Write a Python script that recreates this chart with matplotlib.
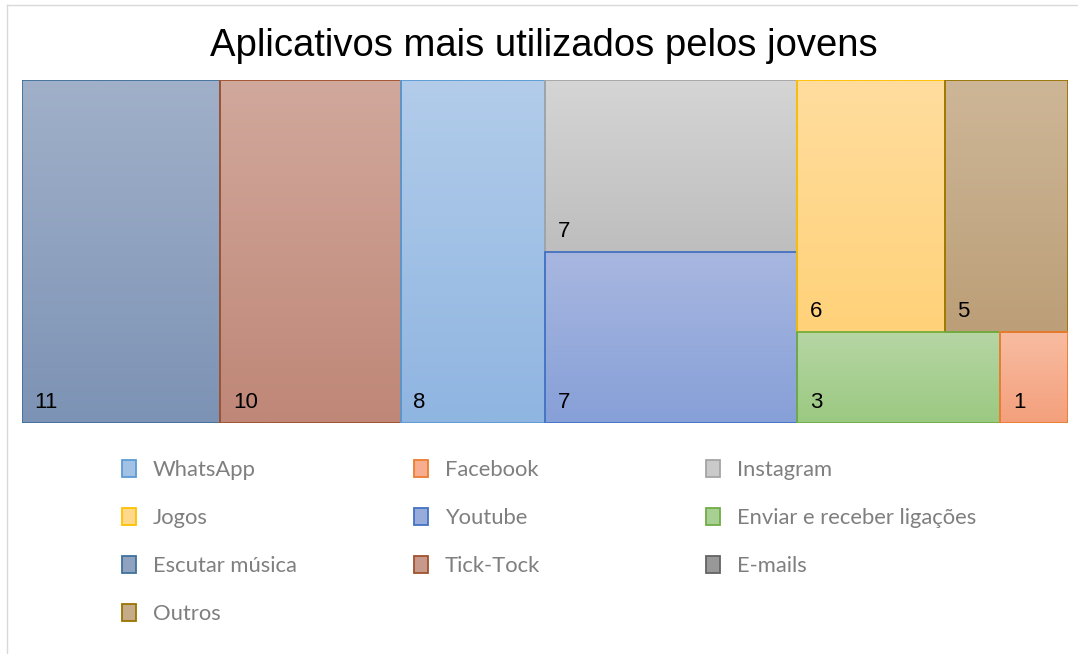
import numpy as np
import matplotlib
matplotlib.use("Agg")
import matplotlib.pyplot as plt
from matplotlib.patches import Rectangle
from matplotlib.colors import to_rgb
from matplotlib import font_manager

# data, in legend order
apps = ["WhatsApp", "Facebook", "Instagram", "Jogos", "Youtube",
        "Enviar e receber ligações", "Escutar música", "Tick-Tock", "E-mails", "Outros"]
counts = [8, 1, 7, 6, 7, 3, 11, 10, 0, 5]

# (top colour, bottom colour, border colour)
colors = {
    "WhatsApp": ("#B2CCEA", "#8FB5E1", "#5B9BD5"),
    "Facebook": ("#F8BCA2", "#F4A07C", "#ED7D31"),
    "Instagram": ("#D5D5D5", "#BEBEBE", "#A5A5A5"),
    "Jogos": ("#FFDD9E", "#FFD279", "#FFC000"),
    "Youtube": ("#A8B7E0", "#87A0D8", "#4472C4"),
    "Enviar e receber ligações": ("#B6D6A4", "#9BC981", "#70AD47"),
    "Escutar música": ("#A0B0C9", "#7D93B5", "#41719C"),
    "Tick-Tock": ("#D1A89C", "#BF8777", "#A0522D"),
    "E-mails": ("#A6A6A6", "#8A8A8A", "#636363"),
    "Outros": ("#CDB697", "#BC9F78", "#997300"),
}

# treemap arrangement as Excel drew it: "h" splits left->right, "v" top->bottom
tree = ("h", ["Escutar música", "Tick-Tock", "WhatsApp",
              ("v", ["Instagram", "Youtube"]),
              ("v", [("h", ["Jogos", "Outros"]),
                     ("h", ["Enviar e receber ligações", "Facebook"])])])

value = dict(zip(apps, counts))


def node_total(node):
    if isinstance(node, str):
        return value[node]
    return sum(node_total(c) for c in node[1])


def layout(node, x, y, w, h, out):
    # y measured from the top
    if isinstance(node, str):
        out.append((node, x, y, w, h))
        return
    direction, children = node
    total = node_total(node)
    pos = 0.0
    for c in children:
        frac = node_total(c) / total
        if direction == "h":
            layout(c, x + pos * w, y, w * frac, h, out)
        else:
            layout(c, x, y + pos * h, w, h * frac, out)
        pos += frac


rects = []
layout(tree, 0, 0, 1, 1, rects)

names = {f.name for f in font_manager.fontManager.ttflist}
legend_font = "Liberation Sans Narrow" if "Liberation Sans Narrow" in names else "Lato"

W, H = 1078, 654
fig = plt.figure(figsize=(W / 100, H / 100), dpi=100)
ax = fig.add_axes([22 / W, 1 - 423 / H, 1046 / W, 343 / H])
ax.set_xlim(0, 1)
ax.set_ylim(0, 1)
ax.axis("off")

for name, x, y, w, h in rects:
    top, bot, edge = colors[name]
    yb = 1 - y - h
    t = np.linspace(0, 1, 64)[:, None]
    grad = (1 - t) * np.array(to_rgb(bot)) + t * np.array(to_rgb(top))
    ax.imshow(grad[:, None, :], extent=(x, x + w, yb, yb + h), origin="lower",
              aspect="auto", interpolation="bilinear", zorder=1)
    ax.add_patch(Rectangle((x, yb), w, h, fill=False, edgecolor=edge,
                           linewidth=1.3, zorder=2))
    ax.annotate(str(value[name]), xy=(x, yb), xytext=(9, 10.5),
                textcoords="offset points", ha="left", va="baseline",
                fontsize=16, family="Liberation Sans", color="black", zorder=3)

ax.set_xlim(0, 1)
ax.set_ylim(0, 1)

fig.text(544 / W, 1 - 46 / H, "Aplicativos mais utilizados pelos jovens",
         ha="center", va="center", fontsize=27.5, family="Liberation Sans", color="black")

# legend, three columns read row by row
for i, name in enumerate(apps):
    col, row = i % 3, i // 3
    x0 = 122 + col * 292
    yc = 468 + row * 48
    top, bot, edge = colors[name]
    mid = 0.5 * (np.array(to_rgb(top)) + np.array(to_rgb(bot)))
    fig.add_artist(Rectangle((x0 / W, 1 - (yc + 8.5) / H), 14 / W, 17 / H,
                             transform=fig.transFigure, facecolor=mid,
                             edgecolor=edge, linewidth=1.3))
    fig.text((x0 + 31) / W, 1 - (yc + 1.5) / H, name, ha="left", va="center",
             fontsize=15.8, family=legend_font, color="#7F7F7F")

# faint outer frame of the chart
fig.add_artist(plt.Line2D([7 / W, 7 / W], [0, 1 - 5 / H], transform=fig.transFigure,
                          color="#D9D9D9", linewidth=1))
fig.add_artist(plt.Line2D([7 / W, 1], [1 - 5 / H, 1 - 5 / H], transform=fig.transFigure,
                          color="#D9D9D9", linewidth=1))

fig.savefig("out.png", dpi=100)
